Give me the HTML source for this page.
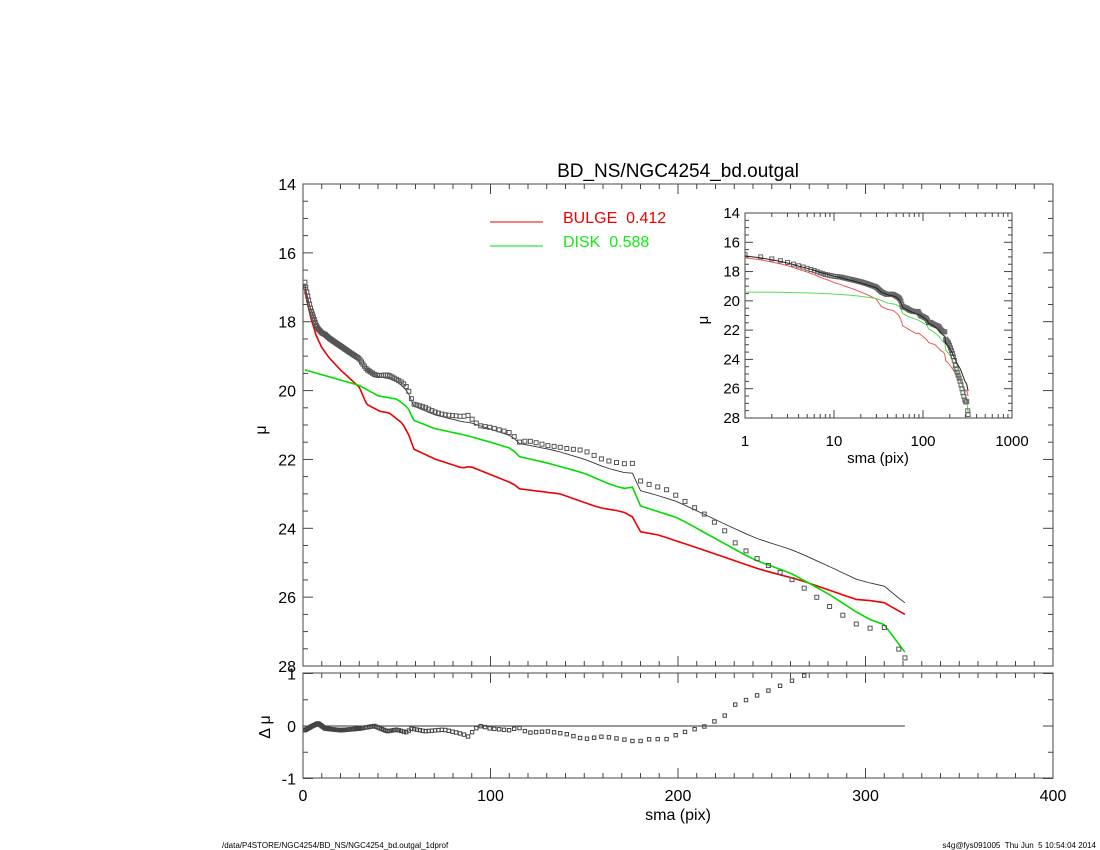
<!DOCTYPE html>
<html><head><meta charset="utf-8"><style>
html,body{margin:0;padding:0;background:#fff;}
svg{display:block;font-family:"Liberation Sans",sans-serif;}
</style></head><body>
<svg id="s" width="1100" height="850" viewBox="0 0 1100 850" xmlns="http://www.w3.org/2000/svg"></svg>
<script>
const S=document.getElementById('s');let out='';
function interp(tab,r){if(r<=tab[0][0])return tab[0][1];for(let i=1;i<tab.length;i++){if(r<=tab[i][0]){const a=tab[i-1],b=tab[i];return a[1]+(b[1]-a[1])*(r-a[0])/(b[0]-a[0]);}}return tab[tab.length-1][1];}
const B=[[0,16.95],[1,17.05],[2,17.35],[4,17.85],[7,18.4],[10,18.75],[14,19.05],[20,19.4],[30,19.9],[34,20.4],[41,20.6],[46,20.65],[53,20.95],[57,21.35],[59,21.7],[71,22.0],[85,22.25],[89,22.2],[112,22.7],[115,22.85],[137,23.0],[158,23.4],[169,23.5],[175,23.6],[180,24.1],[190,24.2],[212,24.6],[244,25.2],[265,25.5],[286,25.9],[297,26.1],[308,26.1],[321,26.5]];
const D=[[0,19.38],[30,19.85],[40,20.15],[50,20.25],[53,20.37],[56,20.5],[59,20.86],[70,21.1],[87,21.3],[100,21.5],[112,21.7],[114,21.9],[130,22.1],[150,22.4],[165,22.75],[172,22.85],[176,22.8],[180,23.35],[200,23.7],[220,24.3],[240,24.9],[260,25.3],[280,25.9],[300,26.6],[310,26.8],[321,27.6]];
const R=[[0,-0.1],[5,0],[8,0.05],[12,-0.05],[20,-0.08],[30,-0.05],[38,0],[45,-0.1],[50,-0.07],[55,-0.12],[58,-0.05],[65,-0.1],[75,-0.07],[85,-0.15],[88,-0.2],[92,-0.05],[95,0],[100,-0.05],[110,-0.08],[115,-0.03],[120,-0.13],[130,-0.1],[140,-0.15],[150,-0.25],[160,-0.2],[170,-0.25],[178,-0.3],[185,-0.25],[195,-0.25],[200,-0.15],[205,-0.1],[215,0],[220,0.1],[225,0.2],[230,0.4],[240,0.55],[250,0.7],[260,0.85],[270,1.0],[280,1.15],[290,1.25],[300,1.35],[310,1.2],[321,1.6]];
const tot=r=>{const b=interp(B,r),d=interp(D,r);return -2.5*Math.log10(Math.pow(10,-0.4*b)+Math.pow(10,-0.4*d));};
let rs=[];for(let r=1;r<=321;r=Math.max(r+0.5,r*1.025))rs.push(r);rs.push(321);
const mx=r=>303+r*1.875, my=m=>184+(m-14)*34.43;
const rx=r=>303+r*1.875, ry=v=>726-v*52.5;
const lx=r=>745+Math.log10(r)*89, ly=m=>213+(m-14)*14.64;
function poly(f,xf,yf,col,w,clip){let p=rs.map(r=>xf(r).toFixed(1)+','+yf(f(r)).toFixed(1)).join(' ');out+=`<polyline points="${p}" fill="none" stroke="${col}" stroke-width="${w}" ${clip?'clip-path="url(#'+clip+')"':''}/>`;}
out+='<defs><clipPath id="cm"><rect x="303" y="184" width="750" height="482"/></clipPath><clipPath id="cr"><rect x="303" y="673" width="750" height="105"/></clipPath><clipPath id="ci"><rect x="745" y="213" width="267" height="205"/></clipPath></defs>';
out+='<rect x="303" y="184" width="750" height="482" fill="none" stroke="#444" stroke-width="1"/>';
out+='<rect x="303" y="673" width="750" height="105" fill="none" stroke="#444" stroke-width="1"/>';
for(let v=0;v<=400;v+=10){const x=mx(v),L=v%100==0?10:5;out+=`<line x1="${x}" y1="184" x2="${x}" y2="${184+L}" stroke="#444"/><line x1="${x}" y1="666" x2="${x}" y2="${666-L}" stroke="#444"/><line x1="${x}" y1="673" x2="${x}" y2="${673+L}" stroke="#444"/><line x1="${x}" y1="778" x2="${x}" y2="${778-L}" stroke="#444"/>`;}
for(let v=14;v<=28;v+=0.5){const y=my(v),L=v%2==0?10:5;out+=`<line x1="303" y1="${y}" x2="${303+L}" y2="${y}" stroke="#444"/><line x1="1053" y1="${y}" x2="${1053-L}" y2="${y}" stroke="#444"/>`;if(v%2==0)out+=`<text x="296" y="${y+6}" font-size="16" text-anchor="end">${v}</text>`;}
for(let v=-1;v<=1;v+=0.5){const y=ry(v),L=Math.abs(v%1)<0.01?10:5;out+=`<line x1="303" y1="${y}" x2="${303+L}" y2="${y}" stroke="#444"/><line x1="1053" y1="${y}" x2="${1053-L}" y2="${y}" stroke="#444"/>`;if(Math.abs(v%1)<0.01)out+=`<text x="296" y="${y+6}" font-size="16" text-anchor="end">${v}</text>`;}
for(let v=0;v<=400;v+=100)out+=`<text x="${mx(v)}" y="801" font-size="16" text-anchor="middle">${v}</text>`;
out+='<text x="678" y="820" font-size="16" text-anchor="middle">sma (pix)</text>';
out+='<text x="678" y="177" font-size="19" text-anchor="middle">BD_NS/NGC4254_bd.outgal</text>';
out+='<text x="266" y="430" font-size="16" text-anchor="middle" transform="rotate(-90 266 430)">μ</text>';
out+='<text x="270" y="727" font-size="16" text-anchor="middle" transform="rotate(-90 270 727)">Δ μ</text>';
out+='<line x1="490" y1="222" x2="543" y2="222" stroke="#e00" stroke-width="1"/><text x="563" y="223" font-size="16" fill="#e00">BULGE&#160;&#160;0.412</text>';
out+='<line x1="490" y1="246" x2="543" y2="246" stroke="#0d0" stroke-width="1"/><text x="563" y="247" font-size="16" fill="#1e1">DISK&#160;&#160;0.588</text>';
poly(tot,mx,my,'#333',0.9,'cm');
poly(r=>interp(B,r),mx,my,'#e00',1.6,'cm');
poly(r=>interp(D,r),mx,my,'#0d0',1.6,'cm');
let pts='';rs.forEach(r=>{const x=mx(r),y=my(tot(r)+interp(R,r));pts+=`<rect x="${(x-2).toFixed(1)}" y="${(y-2).toFixed(1)}" width="4" height="4"/>`;});
out+=`<g fill="none" stroke="#555" stroke-width="1" clip-path="url(#cm)">${pts}</g>`;
out+=`<line x1="303" y1="${ry(0)}" x2="${mx(321)}" y2="${ry(0)}" stroke="#333"/>`;
pts='';rs.forEach(r=>{const x=rx(r),y=ry(interp(R,r));pts+=`<rect x="${(x-1.7).toFixed(1)}" y="${(y-1.7).toFixed(1)}" width="3.4" height="3.4"/>`;});
out+=`<g fill="none" stroke="#444" stroke-width="1" clip-path="url(#cr)">${pts}</g>`;
out+='<rect x="745" y="213" width="267" height="205" fill="#fff" stroke="#444"/>';
for(let d=0;d<3;d++)for(let k=1;k<=9;k++){const v=k*Math.pow(10,d),x=lx(v),L=k==1?8:4;out+=`<line x1="${x}" y1="213" x2="${x}" y2="${213+L}" stroke="#444"/><line x1="${x}" y1="418" x2="${x}" y2="${418-L}" stroke="#444"/>`;}
[1,10,100,1000].forEach(v=>out+=`<text x="${lx(v)}" y="446" font-size="15" text-anchor="middle">${v}</text>`);
for(let v=14;v<=28;v+=0.5){const y=ly(v),L=v%2==0?8:4;out+=`<line x1="745" y1="${y}" x2="${745+L}" y2="${y}" stroke="#444"/><line x1="1012" y1="${y}" x2="${1012-L}" y2="${y}" stroke="#444"/>`;if(v%2==0)out+=`<text x="740" y="${y+5}" font-size="15" text-anchor="end">${v}</text>`;}
out+='<text x="878" y="463" font-size="15" text-anchor="middle">sma (pix)</text>';
out+='<text x="708" y="320" font-size="15" text-anchor="middle" transform="rotate(-90 708 320)">μ</text>';
poly(r=>interp(B,r),lx,ly,'#e55',1,'ci');
poly(r=>interp(D,r),lx,ly,'#5d5',1,'ci');
pts='';rs.forEach(r=>{const x=lx(r),y=ly(tot(r)+interp(R,r));pts+=`<rect x="${(x-2).toFixed(1)}" y="${(y-2).toFixed(1)}" width="4" height="4"/>`;});
out+=`<g fill="none" stroke="#666" stroke-width="1" clip-path="url(#ci)">${pts}</g>`;
poly(tot,lx,ly,'#222',1,'ci');
out+='<text x="222" y="848" font-size="8">/data/P4STORE/NGC4254/BD_NS/NGC4254_bd.outgal_1dprof</text>';
out+='<text x="1096" y="848" font-size="8" text-anchor="end">s4g@fys091005&#160;&#160;Thu Jun&#160;&#160;5 10:54:04 2014</text>';
S.innerHTML=out;
</script>
</body></html>
